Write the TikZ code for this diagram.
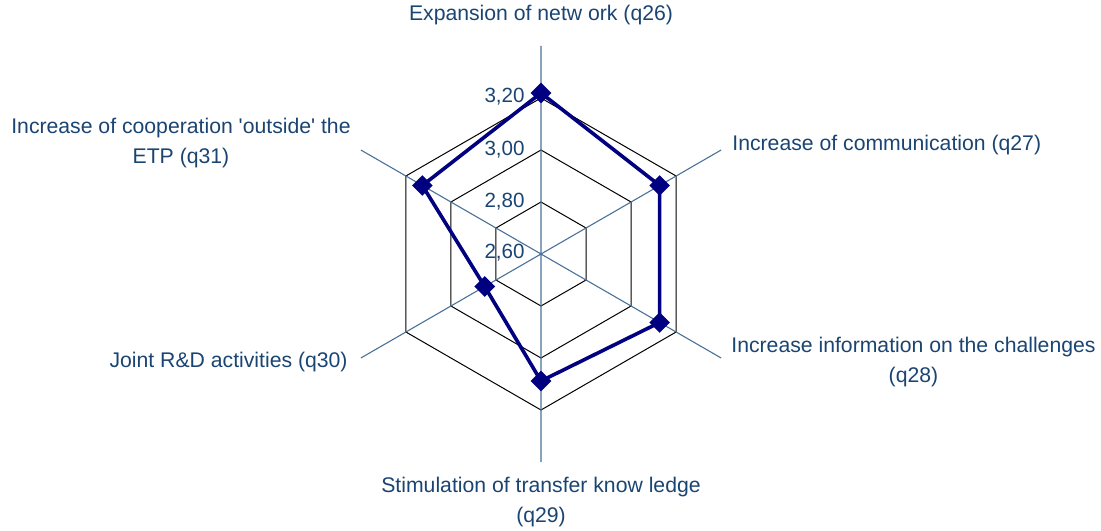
\documentclass[tikz,border=0pt]{standalone}
\usepackage{fontspec}
\setmainfont{Liberation Sans}
\usepackage{xcolor}
\usepackage{tikz}
\usetikzlibrary{shapes.geometric}
\definecolor{labelblue}{HTML}{1A4472}
\definecolor{axisblue}{HTML}{4A7298}
\definecolor{seriesblue}{HTML}{000080}
\tikzset{
  ringline/.style={draw=black, line width=0.5pt},
  axisline/.style={draw=axisblue, line width=0.55pt},
  serieslink/.style={draw=seriesblue, line width=1.8pt, line join=round},
  seriesmark/.style={diamond, fill=seriesblue, draw=none, inner sep=0pt,
    minimum width=10.5pt, minimum height=10.5pt},
  ticklabel/.style={text=labelblue, anchor=east, inner sep=0pt, font=\fontsize{10.3}{12}\selectfont},
  catlabel/.style={text=labelblue, inner sep=0pt, align=center, font=\fontsize{10.6}{15.2}\selectfont}
}
\begin{document}
\begin{tikzpicture}[x=0.5pt, y=0.5pt]
  \useasboundingbox (-541,-276) rectangle (560,254);
  % rings
  \draw[ringline] (90:52) -- (30:52) -- (-30:52) -- (-90:52) -- (-150:52) -- (150:52) -- cycle;
  \draw[ringline] (90:104) -- (30:104) -- (-30:104) -- (-90:104) -- (-150:104) -- (150:104) -- cycle;
  \draw[ringline] (90:156) -- (30:156) -- (-30:156) -- (-90:156) -- (-150:156) -- (150:156) -- cycle;
  % axes
  \coordinate (hub) at (0,0);
  \coordinate (a26) at (90:208);
  \coordinate (a27) at (30:208);
  \coordinate (a28) at (-30:208);
  \coordinate (a29) at (-90:208);
  \coordinate (a30) at (-150:208);
  \coordinate (a31) at (150:208);
  \draw[axisline] (hub) -- (a26) (hub) -- (a27) (hub) -- (a28)
    (hub) -- (a29) (hub) -- (a30) (hub) -- (a31);
  % scale
  \node[ticklabel] (t260) at (-16,1) {2,60};
  \node[ticklabel] (t280) at (-16,52) {2,80};
  \node[ticklabel] (t300) at (-16,104) {3,00};
  \node[ticklabel] (t320) at (-16,157) {3,20};
  % categories
  \node[catlabel] (c26) at (0,239) {Expansion of netw ork (q26)};
  \node[catlabel, anchor=west] (c27) at (191,109) {Increase of communication (q27)};
  \node[catlabel, anchor=west] (c28) at (190,-108) {Increase information on the challenges\\(q28)};
  \node[catlabel] (c29) at (0,-248) {Stimulation of transfer know ledge\\(q29)};
  \node[catlabel, anchor=east] (c30) at (-193,-108) {Joint R\&D activities (q30)};
  \node[catlabel, anchor=east] (c31) at (-190,111) {Increase of cooperation \textquotesingle outside\textquotesingle{} the\\ETP (q31)};
  % series
  \coordinate (p26) at (90:161);
  \coordinate (p27) at (30:137);
  \coordinate (p28) at (-30:137);
  \coordinate (p29) at (-90:127);
  \coordinate (p30) at (-150:65);
  \coordinate (p31) at (150:137);
  \draw[serieslink] (p26) -- (p27) -- (p28) -- (p29) -- (p30) -- (p31) -- cycle;
  \node[seriesmark] (m26) at (p26) {};
  \node[seriesmark] (m27) at (p27) {};
  \node[seriesmark] (m28) at (p28) {};
  \node[seriesmark] (m29) at (p29) {};
  \node[seriesmark] (m30) at (p30) {};
  \node[seriesmark] (m31) at (p31) {};
\end{tikzpicture}
\end{document}
